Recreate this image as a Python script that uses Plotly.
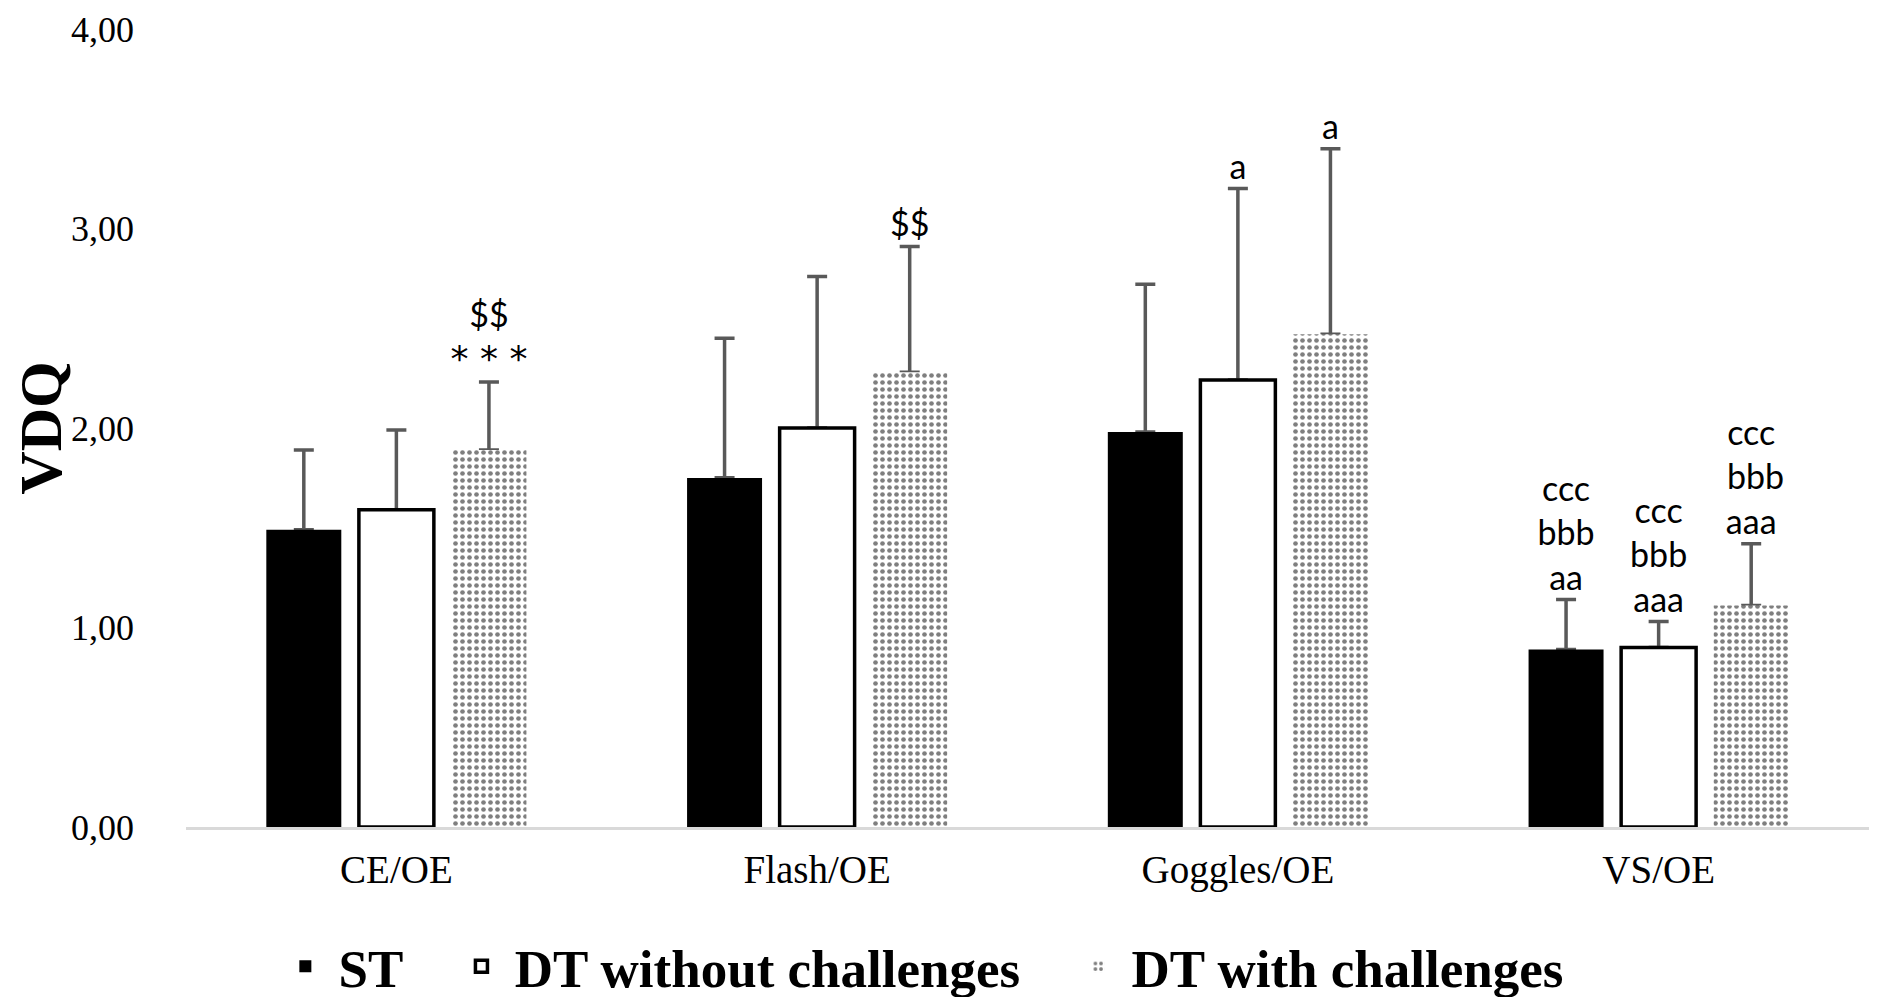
import plotly.graph_objects as go

# values
categories = ['CE/OE', 'Flash/OE', 'Goggles/OE', 'VS/OE']
series_names = ['ST', 'DT without challenges', 'DT with challenges']

st_mean = [1.49, 1.75, 1.98, 0.89]
st_sd = [0.40, 0.70, 0.74, 0.25]
dt_wo_mean = [1.59, 2.00, 2.24, 0.90]
dt_wo_sd = [0.40, 0.76, 0.96, 0.13]
dt_w_mean = [1.89, 2.28, 2.47, 1.11]
dt_w_sd = [0.34, 0.63, 0.93, 0.31]

# significance marks above each error bar
st_marks = ['', '', '', 'ccc<br>bbb<br>aa']
dt_wo_marks = ['', '', 'a', 'ccc<br>bbb<br>aaa']
dt_w_marks = ['$$<br><span style="font-family:DejaVu Sans;font-size:36px">* * *</span>',
              '$$', 'a', 'ccc<br> bbb<br>aaa']

y_ticks = [0, 1, 2, 3, 4]
y_ticktext = ['0,00', '1,00', '2,00', '3,00', '4,00']

SERIF = 'Liberation Serif'
SANS = 'Lato'
ERR_COLOR = '#595959'
NB = '\u00a0'

fig = go.Figure()

# invisible bars reaching the error bar tops: they carry the error bars
# (drawn first so the real bars hide the lower end) and the marks
for grp, mean, sd, marks in [('st', st_mean, st_sd, st_marks),
                             ('dtwo', dt_wo_mean, dt_wo_sd, dt_wo_marks),
                             ('dtw', dt_w_mean, dt_w_sd, dt_w_marks)]:
    tops = [m + s for m, s in zip(mean, sd)]
    fig.add_trace(go.Bar(x=categories, y=tops, offsetgroup=grp,
                         marker=dict(color='rgba(0,0,0,0)', line=dict(width=0)),
                         error_y=dict(type='data', symmetric=False,
                                      array=[0] * len(sd), arrayminus=sd,
                                      color=ERR_COLOR, thickness=3.5, width=10),
                         text=marks, textposition='outside', constraintext='none',
                         textfont=dict(family=SANS, size=34, color='black'),
                         cliponaxis=False, showlegend=False, hoverinfo='skip'))

# ST - solid black
fig.add_trace(go.Bar(x=categories, y=st_mean, name=NB + series_names[0] + NB * 4,
                     offsetgroup='st',
                     marker=dict(color='black', line=dict(color='black', width=0))))

# DT without challenges - white with black border
fig.add_trace(go.Bar(x=categories, y=dt_wo_mean, name=NB + series_names[1] + NB * 4,
                     offsetgroup='dtwo',
                     marker=dict(color='white', line=dict(color='black', width=3.5))))

# DT with challenges - dotted pattern
fig.add_trace(go.Bar(x=categories, y=dt_w_mean, name=NB + series_names[2],
                     offsetgroup='dtw',
                     marker=dict(color='white', line=dict(width=0),
                                 pattern=dict(shape='.', fgcolor='black', bgcolor='white',
                                              size=7, solidity=0.35))))

fig.update_layout(
    width=1874, height=989,
    margin=dict(l=178, r=13, t=21, b=170),
    paper_bgcolor='white', plot_bgcolor='white',
    barmode='group', bargap=0.34, bargroupgap=0.19,
    showlegend=True,
    legend=dict(orientation='h', xref='container', yref='container',
                x=0.148, xanchor='left', y=0.031, yanchor='middle',
                font=dict(family=SERIF, size=53, color='black', weight='bold'),
                traceorder='normal'),
    xaxis=dict(showline=True, linecolor='#d9d9d9', linewidth=3, showgrid=False,
               ticks='', ticklabelstandoff=6, automargin=False,
               tickfont=dict(family=SERIF, size=39, color='black')),
    yaxis=dict(range=[0, 4], tickvals=y_ticks, ticktext=y_ticktext,
               showgrid=False, zeroline=False, showline=False, ticks='',
               ticklabelstandoff=51, ticklabeloverflow='allow', automargin=False,
               tickfont=dict(family=SERIF, size=36, color='black'),
               title=dict(text='VDQ', standoff=14,
                          font=dict(family=SERIF, size=60, color='black', weight='bold'))),
)

fig.write_html("out.html")
